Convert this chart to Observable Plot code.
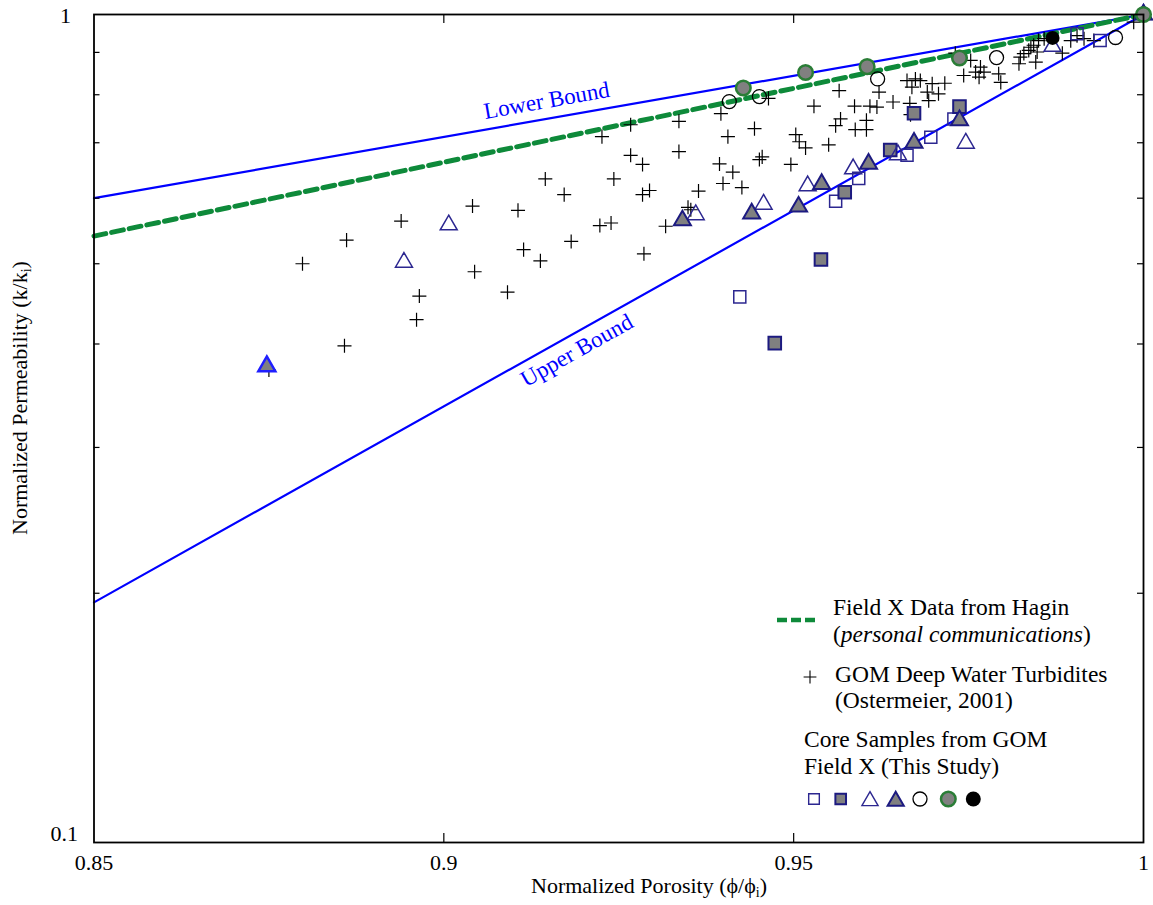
<!DOCTYPE html>
<html><head><meta charset="utf-8">
<script src="https://cdn.jsdelivr.net/npm/d3@7"></script>
<script src="https://cdn.jsdelivr.net/npm/@observablehq/plot@0.6"></script>
<style>
body{margin:0;background:#fff}
svg{font-family:"Liberation Serif","Times New Roman",serif}
</style>
</head><body><div id="chart"></div>
<script>
// ---- axes ----
const xTickLabels = [0.85, 0.9, 0.95, 1];
const xMinorTicks = [0.9, 0.95];
const yTopLabel = [1];
const yBottomLabel = [0.1];
const yMinorTicks = [0.2, 0.3, 0.4, 0.5, 0.6, 0.7, 0.8, 0.9];

// ---- reference lines [phi/phi_i, k/k_i] ----
const lowerBound = [[0.85, 0.6], [1, 1]];
const upperBound = [[0.85, 0.195], [1, 1]];
const fieldXHagin = [[0.85, 0.54], [1, 1]];

// ---- GOM deep water turbidites (Ostermeier, 2001) ----
const gomTurbidites = [
[0.8750,0.372],[0.8798,0.500],[0.8858,0.398],[0.8861,0.534],[0.8939,0.563],[0.8961,0.428],[0.8965,0.457],[0.9041,0.587],[0.9044,0.489],[0.9091,0.462],
[0.9106,0.580],[0.9114,0.520],[0.9138,0.504],[0.9145,0.633],[0.9172,0.606],[0.9182,0.532],[0.9223,0.556],[0.9226,0.712],[0.9239,0.560],[0.9243,0.633],
[0.9267,0.736],[0.9267,0.676],[0.9284,0.659],[0.9284,0.606],[0.9286,0.514],[0.9294,0.613],[0.9317,0.555],[0.9336,0.743],[0.9336,0.683],[0.9349,0.585],
[0.9353,0.581],[0.9364,0.612],[0.9394,0.660],[0.9396,0.759],[0.9399,0.625],[0.9406,0.712],[0.9413,0.645],[0.9426,0.618],[0.9444,0.728],[0.9451,0.668],
[0.9455,0.673],[0.9464,0.792],[0.9496,0.659],[0.9503,0.716],[0.9508,0.702],[0.9517,0.690],[0.9529,0.775],[0.9550,0.696],[0.9560,0.734],[0.9565,0.809],
[0.9567,0.748],[0.9587,0.775],[0.9588,0.726],[0.9604,0.745],[0.9604,0.726],[0.9609,0.775],[0.9619,0.773],[0.9622,0.806],[0.9642,0.784],[0.9666,0.781],
[0.9667,0.757],[0.9662,0.832],[0.9674,0.836],[0.9681,0.832],[0.9669,0.817],[0.9698,0.825],[0.9691,0.806],[0.9707,0.802],[0.9716,0.826],[0.9693,0.787],
[0.9731,0.898],[0.9753,0.880],[0.9743,0.844],[0.9760,0.852],[0.9767,0.864],[0.9765,0.840],[0.9772,0.852],[0.9793,0.848],[0.9796,0.828],[0.9824,0.888],
[0.9829,0.897],[0.9836,0.905],[0.9839,0.913],[0.9843,0.918],[0.9848,0.901],[0.9846,0.876],[0.9822,0.872],[0.9850,0.930],[0.9858,0.935],[0.9884,0.898],
[0.9896,0.930],[0.9905,0.943],[0.9915,0.935],[0.9929,0.930],[0.9986,0.979],[1.0,1.0]
];

// ---- core samples from GOM Field X (this study) ----
const openSquares = [[0.9423,0.456],[0.9560,0.595],[0.9593,0.634],[0.9662,0.676],[0.9696,0.711],[0.9729,0.748],[0.9905,0.948],[0.9938,0.930]];
const filledSquares = [[0.9473,0.401],[0.9539,0.506],[0.9573,0.610],[0.9638,0.686],[0.9672,0.760],[0.9737,0.774]];
const openTriangles = [[0.8943,0.502],[0.9007,0.557],[0.9360,0.573],[0.9457,0.590],[0.9520,0.621],[0.9585,0.651],[0.9649,0.677],[0.9746,0.699],[0.9870,0.915],[1.0,1.0]];
const filledTriangles = [[0.9341,0.564],[0.9440,0.575],[0.9507,0.586],[0.9540,0.624],[0.9607,0.660],[0.9672,0.700],[0.9737,0.745],[1.0,1.0]];
const filledTriangleBlue = [[0.8747,0.376]];
const openCircles = [[0.9408,0.785],[0.9451,0.796],[0.9620,0.836],[0.9790,0.887],[0.9960,0.938],[1.0,1.0]];
const greenCircles = [[0.9428,0.815],[0.9517,0.851],[0.9605,0.865],[0.9737,0.886],[1.0,1.0]];
const blackCircles = [[0.9870,0.937]];

const navy = "#2c2790", gray = "#808080", greenEdge = "#2a7d36", greenDash = "#0e8a3a", blue = "#0000ff";
const FS = 22, LFS = 23.5;
const W = 1153, H = 905, mL = 93.5, mR = 10, mT = 14, mB = 63;
const fw = W - mL - mR, fh = H - mT - mB;
const px = d => d[0], py = d => d[1];

const chart = Plot.plot({
  width: W, height: H,
  marginLeft: mL, marginRight: mR, marginTop: mT, marginBottom: mB,
  style: {fontFamily: '"Liberation Serif", serif', fontSize: FS + "px", background: "white", color: "black"},
  x: {domain: [0.85, 1], axis: null},
  y: {type: "log", domain: [0.1, 1], axis: null},
  marks: [
    Plot.line(lowerBound, {x: px, y: py, stroke: blue, strokeWidth: 2.2}),
    Plot.line(upperBound, {x: px, y: py, stroke: blue, strokeWidth: 2.2}),
    Plot.line(fieldXHagin, {x: px, y: py, stroke: greenDash, strokeWidth: 5, strokeDasharray: "12,6"}),
    Plot.text(["Lower Bound"], {x: 0.9147, y: 0.787, rotate: -10, fill: blue, fontSize: 23}),
    Plot.text(["Upper Bound"], {x: 0.919, y: 0.3928, rotate: -29.3, fill: blue, fontSize: 23}),
    Plot.dot(gomTurbidites, {x: px, y: py, symbol: "plus", r: 4.6, stroke: "black", strokeWidth: 1.2}),
    Plot.dot(openSquares, {x: px, y: py, symbol: "square", r: 6.8, stroke: navy, strokeWidth: 1.5, fill: "none"}),
    Plot.dot(filledSquares, {x: px, y: py, symbol: "square", r: 7.1, stroke: "#1c1a80", strokeWidth: 2, fill: gray}),
    Plot.dot(openTriangles, {x: px, y: py, symbol: "triangle", r: 6.3, stroke: navy, strokeWidth: 1.5, fill: "none"}),
    Plot.dot(filledTriangles, {x: px, y: py, symbol: "triangle", r: 6.3, stroke: "#1c1a80", strokeWidth: 2, fill: gray}),
    Plot.dot(filledTriangleBlue, {x: px, y: py, symbol: "triangle", r: 6.3, stroke: "#1f1fff", strokeWidth: 2.5, fill: gray}),
    Plot.dot(openCircles, {x: px, y: py, symbol: "circle", r: 7, stroke: "black", strokeWidth: 1.3, fill: "none"}),
    Plot.dot(greenCircles, {x: px, y: py, symbol: "circle", r: 7.3, stroke: greenEdge, strokeWidth: 2.5, fill: gray}),
    Plot.dot(blackCircles, {x: px, y: py, symbol: "circle", r: 7, fill: "black"}),
    Plot.tickY(yMinorTicks, {y: d => d, insetRight: fw - 6, stroke: "black", strokeWidth: 1.2}),
    Plot.tickY(yMinorTicks, {y: d => d, insetLeft: fw - 6, stroke: "black", strokeWidth: 1.2}),
    Plot.tickX(xMinorTicks, {x: d => d, insetBottom: fh - 9, stroke: "black", strokeWidth: 1.2}),
    Plot.tickX(xMinorTicks, {x: d => d, insetTop: fh - 9, stroke: "black", strokeWidth: 1.2}),
    Plot.frame({stroke: "black", strokeWidth: 1.8}),
    Plot.axisX({ticks: xTickLabels, tickSize: 0, tickPadding: 12, tickFormat: d => String(d), fontSize: FS, label: null}),
    Plot.axisY({ticks: yTopLabel, tickSize: 0, tickPadding: 23, tickFormat: d => String(d), fontSize: FS, label: null, dy: 1}),
    Plot.axisY({ticks: yBottomLabel, tickSize: 0, tickPadding: 16, tickFormat: d => String(d), fontSize: FS, label: null, dy: -9})
  ]
});
document.getElementById("chart").appendChild(chart);

// ---- axis titles and legend ----
const svg = d3.select(chart);
const g = svg.append("g").attr("font-size", FS).attr("fill", "black").attr("text-anchor", "start");

const xt = g.append("text").attr("x", 531).attr("y", 893);
xt.append("tspan").text("Normalized Porosity (ϕ/ϕ");
xt.append("tspan").attr("font-size", 14).attr("dy", 4).text("i");
xt.append("tspan").attr("dy", -4).text(")");

const yt = g.append("text").attr("transform", "translate(27,535) rotate(-90)");
yt.append("tspan").text("Normalized Permeability (k/k");
yt.append("tspan").attr("font-size", 14).attr("dy", 4).text("i");
yt.append("tspan").attr("dy", -4).text(")");

const lg = g.append("g").attr("font-size", LFS);
lg.append("line").attr("x1", 777).attr("x2", 815).attr("y1", 620).attr("y2", 620)
  .attr("stroke", greenDash).attr("stroke-width", 4.5).attr("stroke-dasharray", "10,4");
lg.append("text").attr("x", 833).attr("y", 615).text("Field X Data from Hagin");
const pc = lg.append("text").attr("x", 833).attr("y", 642);
pc.append("tspan").text("(");
pc.append("tspan").attr("font-style", "italic").text("personal communications");
pc.append("tspan").text(")");
lg.append("path").attr("transform", "translate(810,677)")
  .attr("d", d3.symbol(d3.symbolPlus, Math.PI * 4.2 * 4.2)()).attr("stroke", "black").attr("stroke-width", 1.1).attr("fill", "none");
lg.append("text").attr("x", 835).attr("y", 682).text("GOM Deep Water Turbidites");
lg.append("text").attr("x", 835).attr("y", 708).text("(Ostermeier, 2001)");
lg.append("text").attr("x", 804).attr("y", 747).text("Core Samples from GOM");
lg.append("text").attr("x", 804).attr("y", 774).text("Field X (This Study)");

const legendSymbols = [
  {x: 814, s: d3.symbolSquare, r: 6, stroke: navy, fill: "none", sw: 1.4},
  {x: 840.7, s: d3.symbolSquare, r: 6, stroke: "#1c1a80", fill: gray, sw: 2},
  {x: 870, s: d3.symbolTriangle, r: 6, stroke: navy, fill: "none", sw: 1.4},
  {x: 895.7, s: d3.symbolTriangle, r: 6, stroke: "#1c1a80", fill: gray, sw: 2},
  {x: 920, s: d3.symbolCircle, r: 7, stroke: "black", fill: "none", sw: 1.3},
  {x: 948.3, s: d3.symbolCircle, r: 7.3, stroke: greenEdge, fill: gray, sw: 2.5},
  {x: 973.3, s: d3.symbolCircle, r: 7.5, stroke: "none", fill: "black", sw: 0}
];
legendSymbols.forEach(o => {
  lg.append("path").attr("transform", `translate(${o.x},${o.s === d3.symbolTriangle ? 801 : 799})`)
    .attr("d", d3.symbol(o.s, Math.PI * o.r * o.r)())
    .attr("fill", o.fill).attr("stroke", o.stroke).attr("stroke-width", o.sw);
});
</script>
</body></html>
